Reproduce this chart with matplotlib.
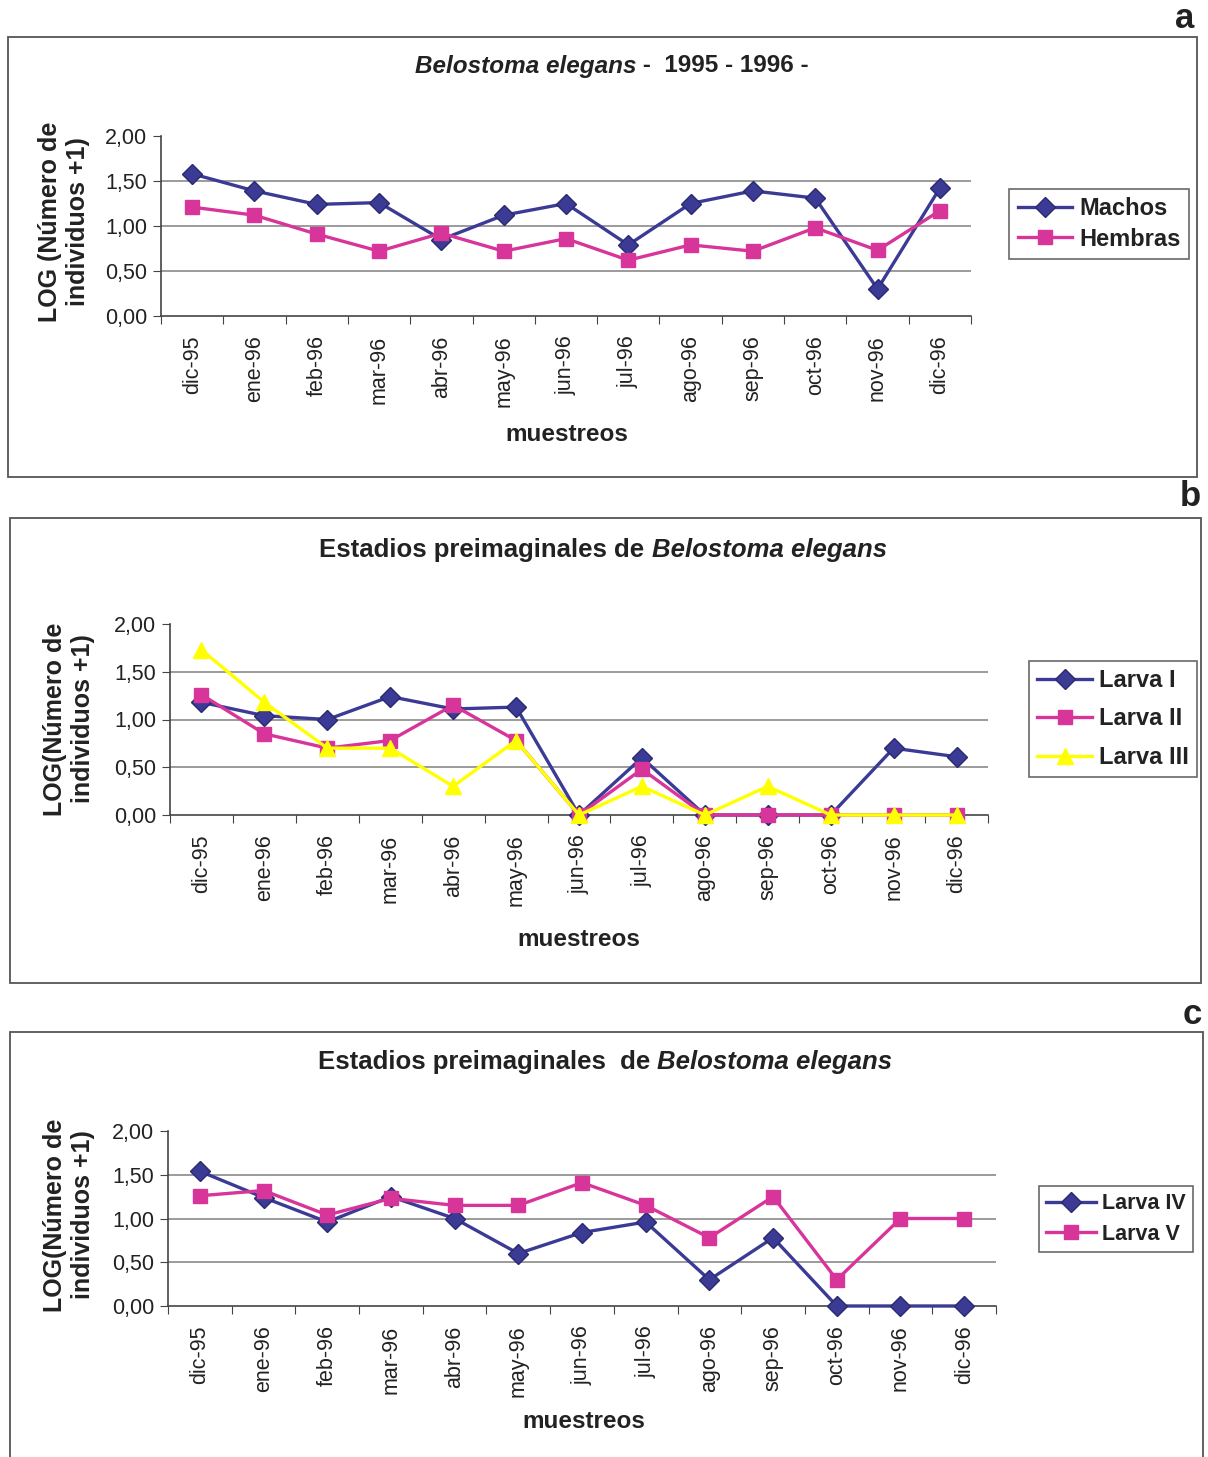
import matplotlib
matplotlib.use('Agg')
import matplotlib.pyplot as plt
from matplotlib.patches import Rectangle

plt.rcParams['font.family'] = ['Liberation Sans', 'DejaVu Sans']

W, H = 1208, 1457

# sampling months
meses = ['dic-95', 'ene-96', 'feb-96', 'mar-96', 'abr-96', 'may-96', 'jun-96',
         'jul-96', 'ago-96', 'sep-96', 'oct-96', 'nov-96', 'dic-96']

# panel a: adults
machos = [1.58, 1.39, 1.24, 1.26, 0.85, 1.12, 1.25, 0.79, 1.25, 1.39, 1.31, 0.30, 1.42]
hembras = [1.21, 1.12, 0.91, 0.72, 0.92, 0.72, 0.86, 0.62, 0.79, 0.72, 0.98, 0.73, 1.17]

# panel b: larval stages I-III
larva_1 = [1.18, 1.04, 1.00, 1.24, 1.11, 1.13, 0.00, 0.60, 0.00, 0.00, 0.00, 0.70, 0.61]
larva_2 = [1.26, 0.85, 0.70, 0.78, 1.15, 0.78, 0.00, 0.48, 0.00, 0.00, 0.00, 0.00, 0.00]
larva_3 = [1.73, 1.18, 0.70, 0.70, 0.30, 0.78, 0.00, 0.30, 0.00, 0.30, 0.00, 0.00, 0.00]

# panel c: larval stages IV-V
larva_4 = [1.54, 1.24, 0.96, 1.25, 1.00, 0.60, 0.84, 0.96, 0.30, 0.78, 0.00, 0.00, 0.00]
larva_5 = [1.26, 1.32, 1.04, 1.23, 1.15, 1.15, 1.41, 1.15, 0.78, 1.25, 0.30, 1.00, 1.00]

NAVY = '#3b3b96'
MAGENTA = '#d8359a'
YELLOW = '#ffff00'
INK = '#222222'

fig = plt.figure(figsize=(W / 100, H / 100), dpi=100)


def rect(x0, y0, x1, y1):
    return [x0 / W, 1 - y1 / H, (x1 - x0) / W, (y1 - y0) / H]


def fx(x):
    return x / W


def fy(y):
    return 1 - y / H


def frame(x0, y0, x1, y1):
    fig.patches.append(Rectangle((fx(x0), fy(y1)), fx(x1) - fx(x0), fy(y0) - fy(y1),
                                 transform=fig.transFigure, fill=False,
                                 edgecolor='#555555', linewidth=1.3))


def rich_text(pieces, xc, y, size):
    # pieces: list of (text, style); drawn side by side and centred at xc
    r = fig.canvas.get_renderer()
    objs = []
    for s, st in pieces:
        t = fig.text(0, fy(y), s, fontsize=size, fontweight='bold', fontstyle=st,
                     va='center', ha='left', color=INK)
        objs.append(t)
    widths = [t.get_window_extent(r).width for t in objs]
    x = xc - sum(widths) / 2
    for t, w in zip(objs, widths):
        t.set_x(fx(x))
        x += w


def panel(box, series, ylab, ylab_pos, xlab_pos, leg_anchor, leg_spacing, leg_size):
    ax = fig.add_axes(rect(*box))
    x = range(len(meses))
    for vals, name, color, marker, ms in series:
        ax.plot(x, vals, color=color, linewidth=2.4, marker=marker, markersize=ms,
                markerfacecolor=color, markeredgecolor=color if marker != 'D' else '#2a2a70',
                label=name, clip_on=False, zorder=3)
    ax.set_xlim(-0.5, len(meses) - 0.5)
    ax.set_ylim(0, 2)
    for g in [0.5, 1.0, 1.5]:
        ax.axhline(g, color='#8a8a8a', linewidth=1.2, zorder=1)
    ax.set_yticks([0, 0.5, 1.0, 1.5, 2.0])
    ax.set_yticklabels(['0,00', '0,50', '1,00', '1,50', '2,00'], fontsize=15.5, color=INK)
    ax.set_xticks([i + 0.5 for i in range(-1, len(meses))])
    ax.set_xticklabels([])
    ax.set_xticks(list(x), minor=True)
    ax.set_xticklabels(meses, minor=True, rotation=90, fontsize=15.5, color=INK)
    ax.tick_params(axis='x', which='minor', length=0, pad=14)
    ax.tick_params(axis='x', which='major', length=6, direction='out', color='#444444')
    ax.tick_params(axis='y', length=6, direction='out', color='#444444', pad=4)
    for s in ['top', 'right']:
        ax.spines[s].set_visible(False)
    for s in ['left', 'bottom']:
        ax.spines[s].set_color('#444444')
        ax.spines[s].set_linewidth(1.2)
    fig.text(fx(ylab_pos[0]), fy(ylab_pos[1]), ylab, rotation=90, fontsize=18,
             fontweight='bold', ha='center', va='center', linespacing=1.25,
             multialignment='center', color=INK)
    fig.text(fx(xlab_pos[0]), fy(xlab_pos[1]), 'muestreos', fontsize=17.5,
             fontweight='bold', ha='center', va='center', color=INK)
    leg = ax.legend(loc='center', bbox_to_anchor=leg_anchor, bbox_transform=fig.transFigure,
                    prop={'weight': 'bold', 'size': leg_size}, frameon=True,
                    fancybox=False, edgecolor='#444444', handlelength=2.3,
                    handletextpad=0.3, borderpad=0.35, labelspacing=leg_spacing,
                    borderaxespad=0)
    for t in leg.get_texts():
        t.set_color(INK)
    leg.get_frame().set_linewidth(1.2)
    return ax


# panel a
frame(8, 37, 1197, 477)
fig.text(fx(1185), fy(18), 'a', fontsize=25, fontweight='bold', ha='center', va='center',
         color=INK)
rich_text([('Belostoma elegans', 'italic'), (' -  1995 - 1996 -', 'normal')], 612, 66, 17.5)
panel((161, 136, 971, 316),
      [(machos, 'Machos', NAVY, 'D', 10), (hembras, 'Hembras', MAGENTA, 's', 10.5)],
      'LOG (Número de\nindividuos +1)', (64, 222), (567, 435),
      (fx(1099), fy(224)), 0.3, 17)

# panel b
frame(10, 518, 1201, 983)
fig.text(fx(1190), fy(497), 'b', fontsize=25, fontweight='bold', ha='center', va='center',
         color=INK)
rich_text([('Estadios preimaginales de ', 'normal'), ('Belostoma elegans', 'italic')],
          603, 550, 18.5)
panel((170, 624, 988, 815),
      [(larva_1, 'Larva I', NAVY, 'D', 10), (larva_2, 'Larva II', MAGENTA, 's', 10.5),
       (larva_3, 'Larva III', YELLOW, '^', 12)],
      'LOG(Número de\nindividuos +1)', (69, 719), (579, 940),
      (fx(1113), fy(719)), 0.65, 17)

# panel c
frame(10, 1032, 1203, 1470)
fig.text(fx(1192), fy(1015), 'c', fontsize=25, fontweight='bold', ha='center', va='center',
         color=INK)
rich_text([('Estadios preimaginales  de ', 'normal'), ('Belostoma elegans', 'italic')],
          605, 1062, 18.5)
panel((168, 1131, 996, 1306),
      [(larva_4, 'Larva IV', NAVY, 'D', 10), (larva_5, 'Larva V', MAGENTA, 's', 10.5)],
      'LOG(Número de\nindividuos +1)', (69, 1215), (584, 1422),
      (fx(1116), fy(1219)), 0.45, 15.5)

fig.savefig('out.png', dpi=100)
